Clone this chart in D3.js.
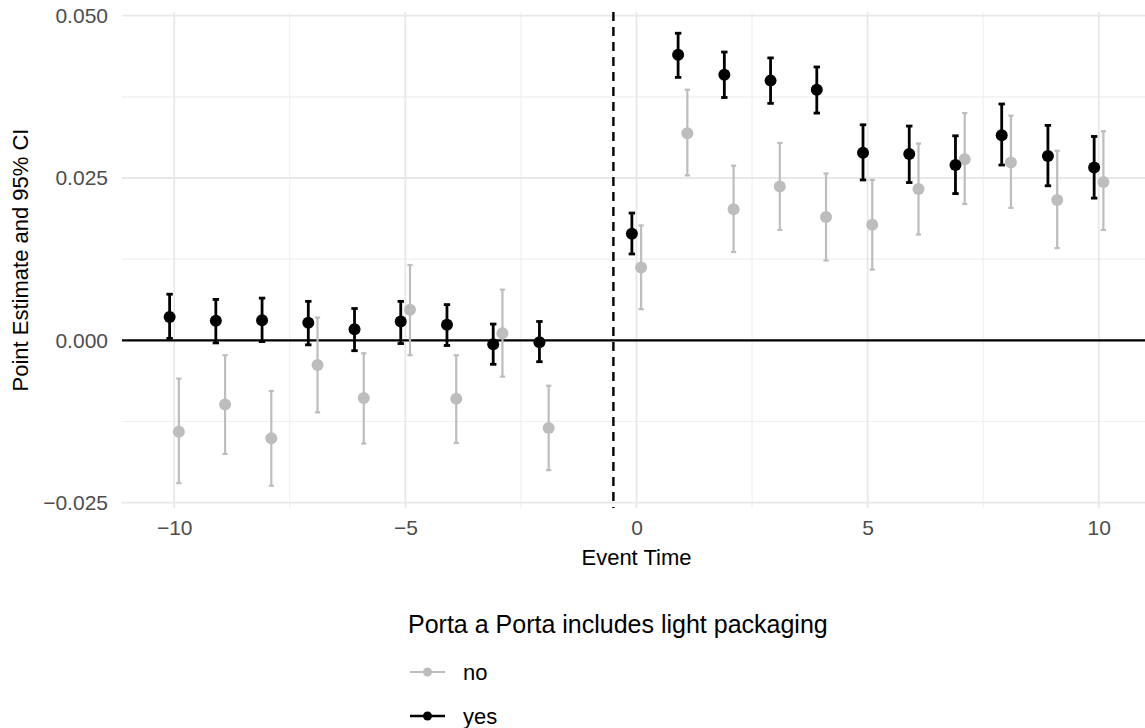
<!DOCTYPE html>
<html>
<head>
<meta charset="utf-8">
<script src="https://cdn.jsdelivr.net/npm/d3@7"></script>
<style>
  html, body { margin: 0; padding: 0; background: #fff; }
  svg { display: block; font-family: "Liberation Sans", Arial, Helvetica, sans-serif; }
</style>
</head>
<body>
<svg id="chart" width="1145" height="728"></svg>
<script>
// Event-study estimates by group (event time -1 is the omitted reference period)
const eventTime = [-10, -9, -8, -7, -6, -5, -4, -3, -2, 0, 1, 2, 3, 4, 5, 6, 7, 8, 9, 10];

const yesEstimate = [0.0036, 0.0030, 0.0031, 0.0027, 0.0017, 0.0029, 0.0024, -0.0006, -0.0003,
                     0.0164, 0.0440, 0.0409, 0.0400, 0.0386, 0.0289, 0.0287, 0.0270, 0.0316, 0.0284, 0.0266];
const yesLower    = [0.0003, -0.0004, -0.0002, -0.0007, -0.0016, -0.0005, -0.0008, -0.0037, -0.0033,
                     0.0133, 0.0405, 0.0374, 0.0365, 0.0350, 0.0247, 0.0243, 0.0226, 0.0270, 0.0238, 0.0219];
const yesUpper    = [0.0071, 0.0063, 0.0065, 0.0060, 0.0049, 0.0060, 0.0055, 0.0025, 0.0029,
                     0.0196, 0.0473, 0.0444, 0.0435, 0.0421, 0.0332, 0.0330, 0.0315, 0.0364, 0.0331, 0.0314];

const noEstimate  = [-0.0141, -0.0099, -0.0151, -0.0038, -0.0089, 0.0047, -0.0090, 0.0011, -0.0135,
                     0.0112, 0.0319, 0.0202, 0.0237, 0.0190, 0.0178, 0.0233, 0.0279, 0.0274, 0.0216, 0.0244];
const noLower     = [-0.0220, -0.0175, -0.0224, -0.0111, -0.0159, -0.0023, -0.0158, -0.0056, -0.0200,
                     0.0048, 0.0254, 0.0136, 0.0170, 0.0123, 0.0109, 0.0163, 0.0210, 0.0204, 0.0142, 0.0170];
const noUpper     = [-0.0059, -0.0023, -0.0078, 0.0035, -0.0020, 0.0116, -0.0023, 0.0078, -0.0070,
                     0.0177, 0.0386, 0.0269, 0.0304, 0.0257, 0.0247, 0.0303, 0.0350, 0.0346, 0.0292, 0.0322];

const groupLabels = ["no", "yes"];
const xTicks = [-10, -5, 0, 5, 10];
const xMinorTicks = [-7.5, -2.5, 2.5, 7.5];
const yTicks = [-0.025, 0, 0.025, 0.05];
const yMinorTicks = [-0.0125, 0.0125, 0.0375];
const treatmentLine = -0.5;

const legendTitle = "Porta a Porta includes light packaging";
const xTitle = "Event Time";
const yTitle = "Point Estimate and 95% CI";

// ---- layout ----
const panel = { left: 122, right: 1145, top: 12, bottom: 508 };
const colors = { no: "#bdbdbd", yes: "#000000" };
const dodge = { no: 0.1, yes: -0.1 };

const svg = d3.select("#chart");

const x = d3.scaleLinear().domain([-11.13, 11.0]).range([panel.left, panel.right]);
const y = d3.scaleLinear().domain([-0.02583, 0.05057]).range([panel.bottom, panel.top]);

const series = {
  no: eventTime.map((t, i) => ({ t, est: noEstimate[i], lo: noLower[i], hi: noUpper[i] })),
  yes: eventTime.map((t, i) => ({ t, est: yesEstimate[i], lo: yesLower[i], hi: yesUpper[i] }))
};

// ---- grid ----
const grid = svg.append("g");
grid.selectAll("line.xminor").data(xMinorTicks).join("line")
  .attr("x1", d => x(d)).attr("x2", d => x(d))
  .attr("y1", panel.top).attr("y2", panel.bottom)
  .attr("stroke", "#efefef").attr("stroke-width", 1.1);
grid.selectAll("line.yminor").data(yMinorTicks).join("line")
  .attr("x1", panel.left).attr("x2", panel.right)
  .attr("y1", d => y(d)).attr("y2", d => y(d))
  .attr("stroke", "#efefef").attr("stroke-width", 1.1);
grid.selectAll("line.xmajor").data(xTicks).join("line")
  .attr("x1", d => x(d)).attr("x2", d => x(d))
  .attr("y1", panel.top).attr("y2", panel.bottom)
  .attr("stroke", "#e8e8e8").attr("stroke-width", 1.8);
grid.selectAll("line.ymajor").data(yTicks).join("line")
  .attr("x1", panel.left).attr("x2", panel.right)
  .attr("y1", d => y(d)).attr("y2", d => y(d))
  .attr("stroke", "#e8e8e8").attr("stroke-width", 1.8);

// ---- axes (labels only, minimal theme) ----
const yAxis = d3.axisLeft(y).tickValues(yTicks).tickFormat(d3.format(".3f")).tickSize(0).tickPadding(14);
svg.append("g").attr("transform", `translate(${panel.left},0)`).call(yAxis)
  .call(g => g.select(".domain").remove())
  .call(g => g.selectAll("text").attr("fill", "#4d4d4d").attr("font-size", 21)
    .attr("font-family", "Liberation Sans, Arial, sans-serif"));

const xAxis = d3.axisBottom(x).tickValues(xTicks).tickFormat(d3.format("d")).tickSize(0).tickPadding(12);
svg.append("g").attr("transform", `translate(0,${panel.bottom})`).call(xAxis)
  .call(g => g.select(".domain").remove())
  .call(g => g.selectAll("text").attr("fill", "#4d4d4d").attr("font-size", 21)
    .attr("font-family", "Liberation Sans, Arial, sans-serif"));

// ---- reference lines ----
svg.append("line")
  .attr("x1", panel.left).attr("x2", panel.right)
  .attr("y1", y(0)).attr("y2", y(0))
  .attr("stroke", "#000").attr("stroke-width", 2.2);
svg.append("line")
  .attr("x1", x(treatmentLine)).attr("x2", x(treatmentLine))
  .attr("y1", panel.top).attr("y2", panel.bottom)
  .attr("stroke", "#000").attr("stroke-width", 2.4)
  .attr("stroke-dasharray", "9,6");

// ---- error bars ----
const barStyle = { no: { w: 2.2, cap: 2.6 }, yes: { w: 2.8, cap: 3.2 } };
groupLabels.forEach(key => {
  const g = svg.append("g");
  const sty = barStyle[key];
  const data = series[key];
  g.selectAll("line.v").data(data).join("line")
    .attr("x1", d => x(d.t + dodge[key])).attr("x2", d => x(d.t + dodge[key]))
    .attr("y1", d => y(d.lo)).attr("y2", d => y(d.hi))
    .attr("stroke", colors[key]).attr("stroke-width", sty.w);
  g.selectAll("line.top").data(data).join("line")
    .attr("x1", d => x(d.t + dodge[key]) - sty.cap).attr("x2", d => x(d.t + dodge[key]) + sty.cap)
    .attr("y1", d => y(d.hi)).attr("y2", d => y(d.hi))
    .attr("stroke", colors[key]).attr("stroke-width", sty.w);
  g.selectAll("line.bot").data(data).join("line")
    .attr("x1", d => x(d.t + dodge[key]) - sty.cap).attr("x2", d => x(d.t + dodge[key]) + sty.cap)
    .attr("y1", d => y(d.lo)).attr("y2", d => y(d.lo))
    .attr("stroke", colors[key]).attr("stroke-width", sty.w);
});

// ---- points ----
groupLabels.forEach(key => {
  svg.append("g").selectAll("circle").data(series[key]).join("circle")
    .attr("cx", d => x(d.t + dodge[key]))
    .attr("cy", d => y(d.est))
    .attr("r", 6)
    .attr("fill", colors[key]);
});

// ---- axis titles ----
svg.append("text")
  .attr("x", x(0)).attr("y", 565)
  .attr("text-anchor", "middle").attr("font-size", 22).attr("fill", "#000")
  .text(xTitle);
svg.append("text")
  .attr("transform", `translate(28,${(panel.top + panel.bottom) / 2}) rotate(-90)`)
  .attr("text-anchor", "middle").attr("font-size", 22).attr("fill", "#000")
  .text(yTitle);

// ---- legend ----
const legend = svg.append("g");
legend.append("text")
  .attr("x", 408).attr("y", 633)
  .attr("font-size", 25).attr("fill", "#000")
  .text(legendTitle);
const rowY = { no: 672, yes: 716 };
groupLabels.forEach(key => {
  const row = legend.append("g").attr("transform", `translate(0,${rowY[key]})`);
  row.append("line").attr("x1", 410).attr("x2", 445).attr("y1", 0).attr("y2", 0)
    .attr("stroke", colors[key]).attr("stroke-width", key === "yes" ? 2.6 : 2.0);
  row.append("circle").attr("cx", 427.5).attr("cy", 0).attr("r", 4.5).attr("fill", colors[key]);
  row.append("text").attr("x", 463).attr("y", 0).attr("dy", "0.36em")
    .attr("font-size", 22).attr("fill", "#000").text(key);
});
</script>
</body>
</html>
